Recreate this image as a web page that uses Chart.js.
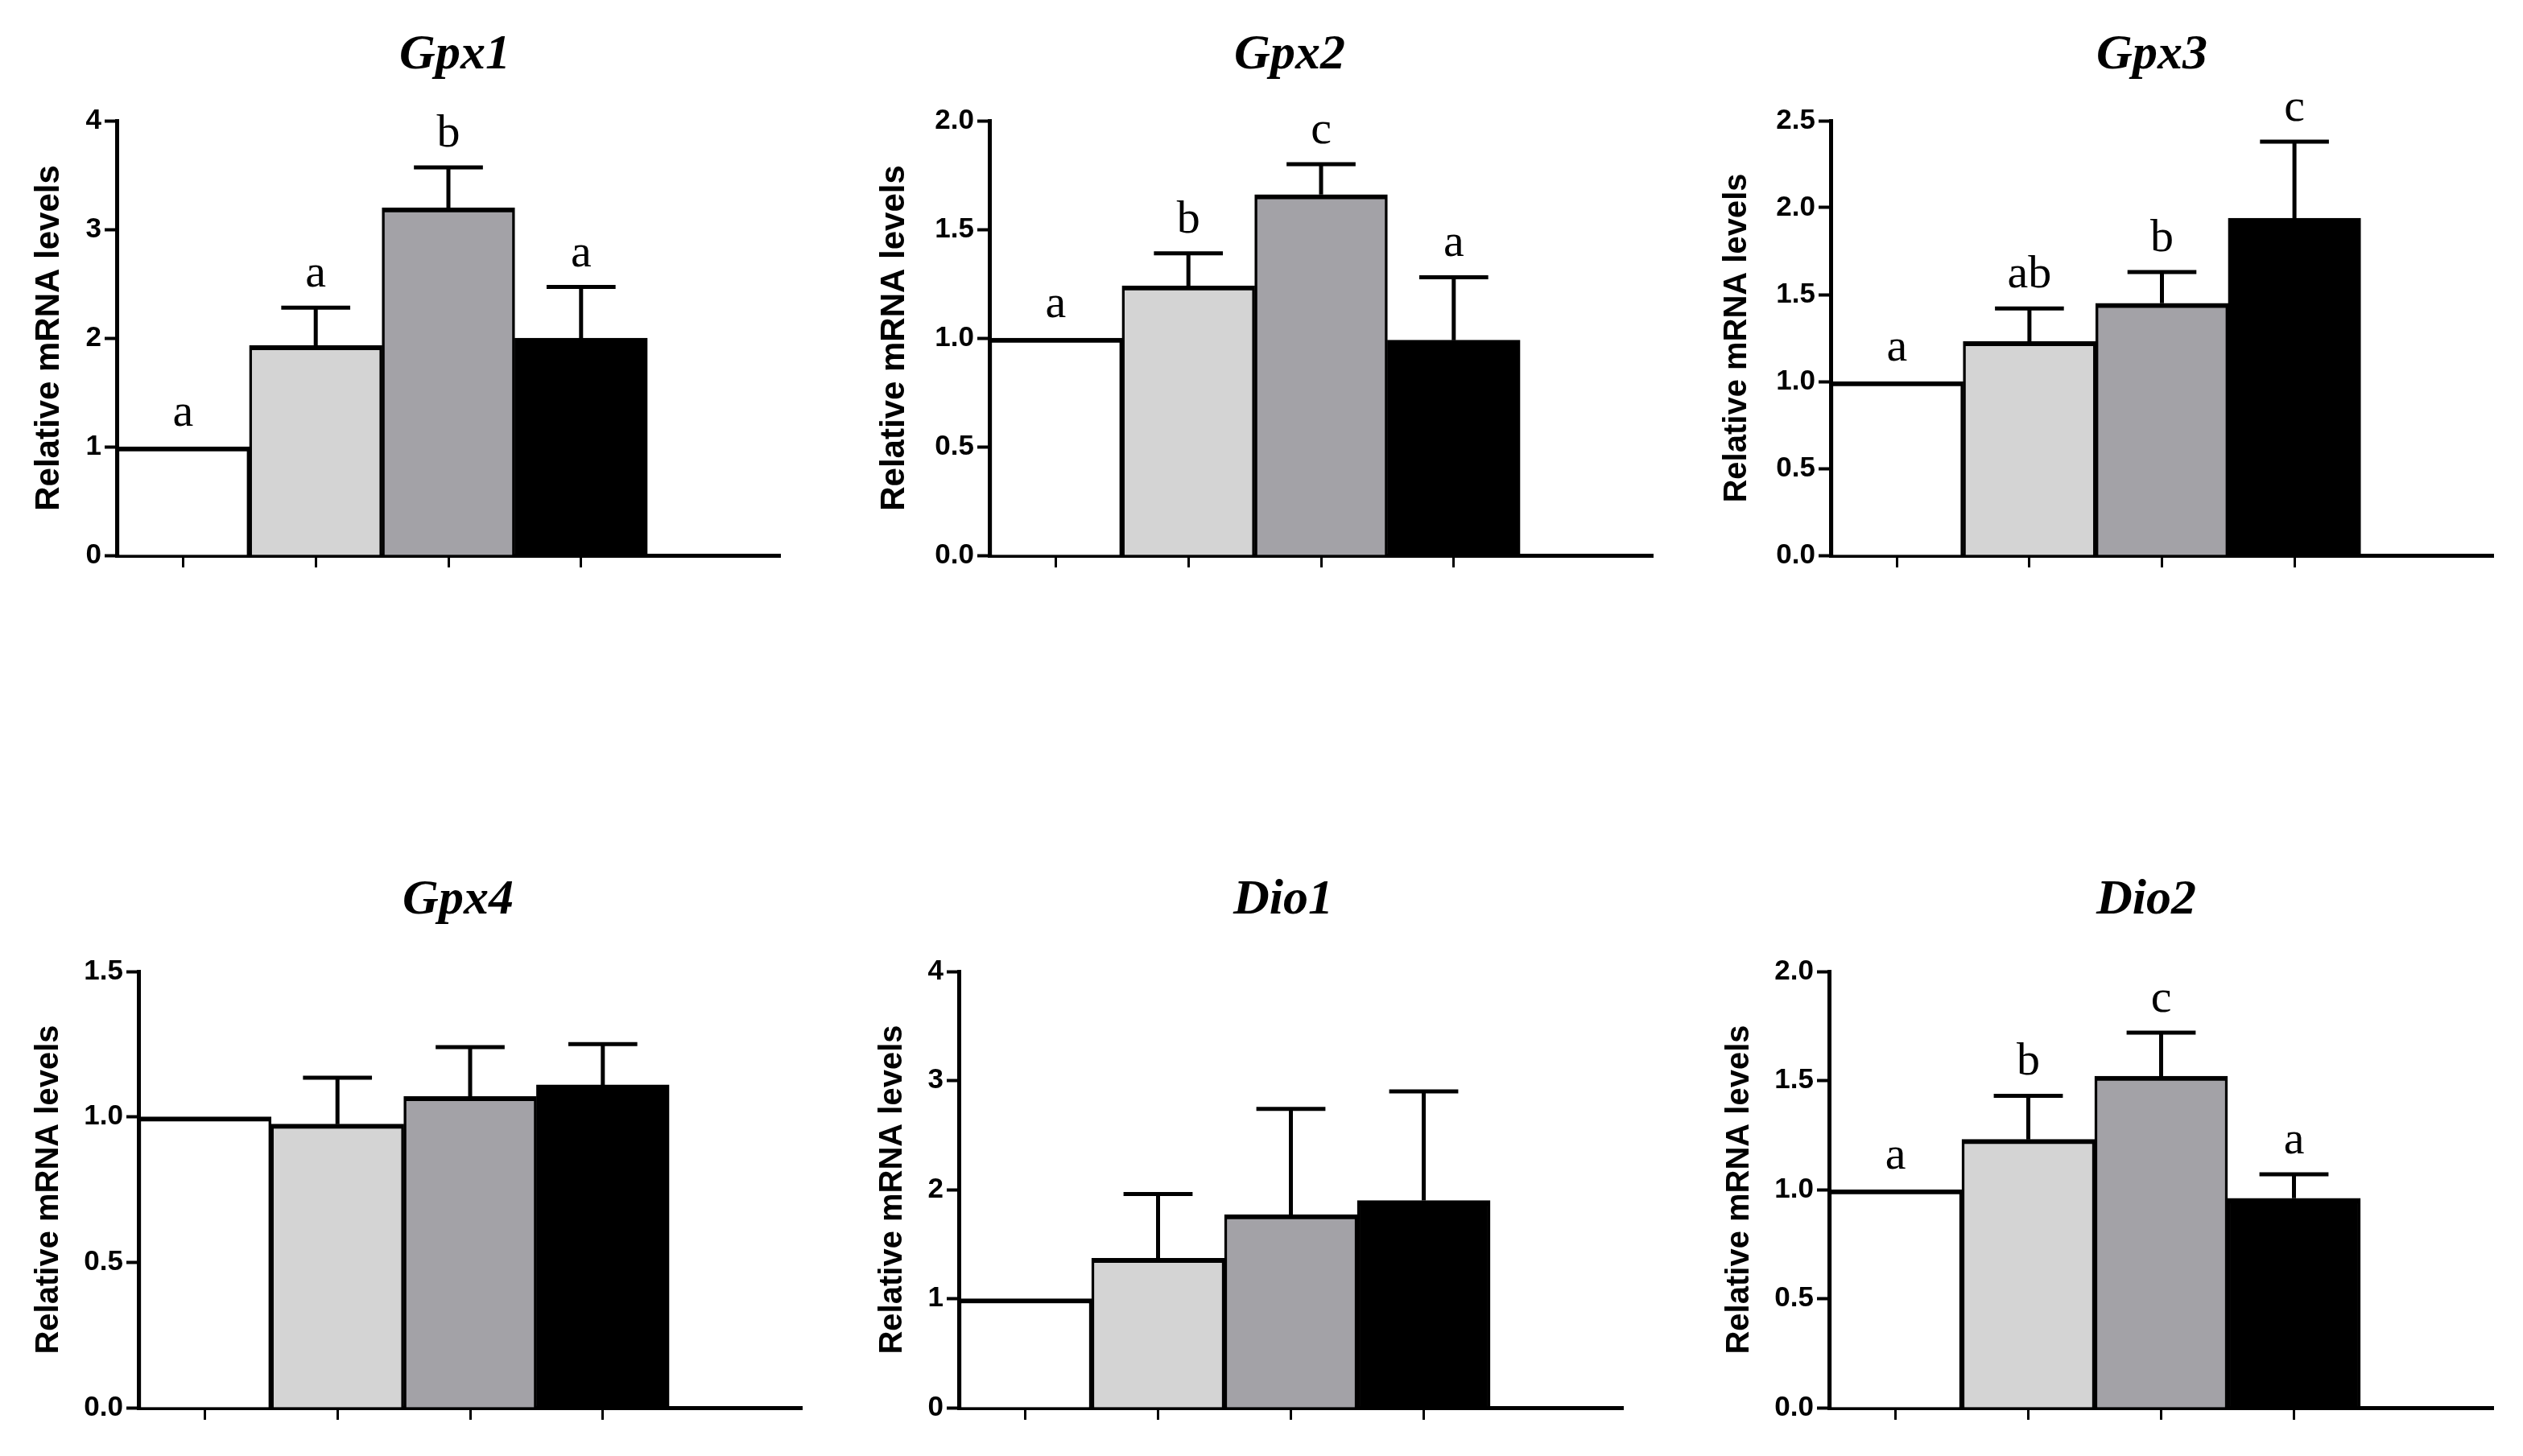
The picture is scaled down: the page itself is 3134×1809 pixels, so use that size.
<!DOCTYPE html>
<html>
<head>
<meta charset="utf-8">
<script src="https://cdn.jsdelivr.net/npm/chart.js@4.4.1/dist/chart.umd.min.js"></script>
<style>
html, body { margin: 0; padding: 0; background: #fff; width: 3134px; height: 1809px; overflow: hidden; position: relative; }
.title { position: absolute; font: italic bold 62px "Liberation Serif", serif; line-height: 1; transform: translate(-50%, -50%); white-space: nowrap; color: #000; }
</style>
</head>
<body>
<script>
// 4 groups + one empty slot on the right of each axis
var xLabels = ['', '', '', '', ''];

var gpx1Mean = [1, 1.93, 3.2, 2.0];
var gpx1Sd = [0, 0.35, 0.37, 0.47];
var gpx1Letters = ['a', 'a', 'b', 'a'];
var gpx1Ticks = ['0', '1', '2', '3', '4'];

var gpx2Mean = [1, 1.24, 1.66, 0.99];
var gpx2Sd = [0, 0.15, 0.14, 0.29];
var gpx2Letters = ['a', 'b', 'c', 'a'];
var gpx2Ticks = ['0.0', '0.5', '1.0', '1.5', '2.0'];

var gpx3Mean = [1, 1.23, 1.45, 1.94];
var gpx3Sd = [0, 0.19, 0.18, 0.44];
var gpx3Letters = ['a', 'ab', 'b', 'c'];
var gpx3Ticks = ['0.0', '0.5', '1.0', '1.5', '2.0', '2.5'];

var gpx4Mean = [1, 0.975, 1.07, 1.11];
var gpx4Sd = [0, 0.16, 0.17, 0.14];
var gpx4Letters = ['', '', '', ''];
var gpx4Ticks = ['0.0', '0.5', '1.0', '1.5'];

var dio1Mean = [1, 1.37, 1.77, 1.9];
var dio1Sd = [0, 0.59, 0.97, 1.0];
var dio1Letters = ['', '', '', ''];
var dio1Ticks = ['0', '1', '2', '3', '4'];

var dio2Mean = [1, 1.23, 1.52, 0.96];
var dio2Sd = [0, 0.2, 0.2, 0.11];
var dio2Letters = ['a', 'b', 'c', 'a'];
var dio2Ticks = ['0.0', '0.5', '1.0', '1.5', '2.0'];

var barColors = ['#ffffff', '#d4d4d4', '#a3a2a7', '#000000'];

var panels = [
    { name: 'Gpx1', mean: gpx1Mean, sd: gpx1Sd, letters: gpx1Letters, ticks: gpx1Ticks,
      axisX: 145, right: 969, top: 150, bottom: 690, titleX: 565, titleY: 64, yTitleX: 61, yTitleSize: 42 },
    { name: 'Gpx2', mean: gpx2Mean, sd: gpx2Sd, letters: gpx2Letters, ticks: gpx2Ticks,
      axisX: 1229, right: 2053, top: 150, bottom: 690, titleX: 1602, titleY: 64, yTitleX: 1111, yTitleSize: 42 },
    { name: 'Gpx3', mean: gpx3Mean, sd: gpx3Sd, letters: gpx3Letters, ticks: gpx3Ticks,
      axisX: 2274, right: 3097, top: 150, bottom: 690, titleX: 2673, titleY: 64, yTitleX: 2158, yTitleSize: 40 },
    { name: 'Gpx4', mean: gpx4Mean, sd: gpx4Sd, letters: gpx4Letters, ticks: gpx4Ticks,
      axisX: 172, right: 996, top: 1207, bottom: 1749, titleX: 569, titleY: 1114, yTitleX: 61, yTitleSize: 40 },
    { name: 'Dio1', mean: dio1Mean, sd: dio1Sd, letters: dio1Letters, ticks: dio1Ticks,
      axisX: 1191, right: 2016, top: 1207, bottom: 1749, titleX: 1594, titleY: 1114, yTitleX: 1109, yTitleSize: 40 },
    { name: 'Dio2', mean: dio2Mean, sd: dio2Sd, letters: dio2Letters, ticks: dio2Ticks,
      axisX: 2272, right: 3097, top: 1207, bottom: 1749, titleX: 2666, titleY: 1114, yTitleX: 2161, yTitleSize: 40 }
];

var sansFont = "'Liberation Sans', Arial, sans-serif";

function makePanel(p) {
    var padTop = 40, padRight = 30, xAxisH = 40;
    var left = Math.round(p.yTitleX - 0.6 * p.yTitleSize);
    var yMax = parseFloat(p.ticks[p.ticks.length - 1]);
    var step = parseFloat(p.ticks[1]) - parseFloat(p.ticks[0]);

    var canvas = document.createElement('canvas');
    canvas.width = p.right + padRight - left;
    canvas.height = padTop + (p.bottom - p.top) + xAxisH;
    canvas.style.position = 'absolute';
    canvas.style.left = left + 'px';
    canvas.style.top = (p.top - padTop) + 'px';
    document.body.appendChild(canvas);

    var title = document.createElement('div');
    title.className = 'title';
    title.textContent = p.name;
    title.style.left = p.titleX + 'px';
    title.style.top = p.titleY + 'px';
    document.body.appendChild(title);

    // error bars (upper SD only) and significance letters
    var errorBars = {
        id: 'errorBars',
        afterDatasetsDraw: function (chart) {
            var ctx = chart.ctx;
            var meta = chart.getDatasetMeta(0);
            var y = chart.scales.y;
            ctx.save();
            ctx.strokeStyle = '#000';
            ctx.fillStyle = '#000';
            ctx.lineWidth = 5;
            ctx.font = "58px 'Liberation Serif', serif";
            ctx.textAlign = 'center';
            ctx.textBaseline = 'alphabetic';
            p.mean.forEach(function (m, i) {
                var bar = meta.data[i];
                var half = bar.width * 0.26;
                var yBar = y.getPixelForValue(m);
                var yTop = y.getPixelForValue(m + p.sd[i]);
                if (p.sd[i] > 0) {
                    ctx.beginPath();
                    ctx.moveTo(bar.x, yBar);
                    ctx.lineTo(bar.x, yTop);
                    ctx.moveTo(bar.x - half, yTop);
                    ctx.lineTo(bar.x + half, yTop);
                    ctx.stroke();
                }
                if (p.letters[i]) {
                    ctx.fillText(p.letters[i], bar.x, yTop - 26);
                }
            });
            ctx.restore();
        }
    };

    new Chart(canvas.getContext('2d'), {
        type: 'bar',
        data: {
            labels: xLabels,
            datasets: [{
                data: p.mean.concat([null]),
                backgroundColor: barColors,
                borderColor: '#000',
                borderWidth: { top: 6, left: 3.5, right: 3.5, bottom: 0 },
                borderSkipped: false,
                barPercentage: 1,
                categoryPercentage: 1
            }]
        },
        options: {
            responsive: false,
            animation: false,
            layout: { padding: { left: 0, top: padTop, right: padRight, bottom: 0 } },
            plugins: { legend: { display: false }, tooltip: { enabled: false } },
            scales: {
                x: {
                    afterFit: function (s) { s.height = xAxisH; },
                    border: { display: true, color: '#000', width: 5 },
                    grid: {
                        offset: false,
                        drawOnChartArea: false,
                        drawTicks: true,
                        tickLength: 15,
                        tickWidth: 3,
                        tickColor: function (c) { return c.index < 4 ? '#000' : 'rgba(0,0,0,0)'; }
                    },
                    ticks: { display: true }
                },
                y: {
                    min: 0,
                    max: yMax,
                    afterFit: function (s) { s.width = p.axisX - left; },
                    border: { display: true, color: '#000', width: 5 },
                    grid: { drawOnChartArea: false, drawTicks: true, tickLength: 15, tickWidth: 4, tickColor: '#000' },
                    ticks: {
                        stepSize: step,
                        padding: 4,
                        color: '#000',
                        font: { family: sansFont, weight: 'bold', size: 35 },
                        callback: function (v, i) { return p.ticks[i]; }
                    },
                    title: {
                        display: true,
                        text: 'Relative mRNA levels',
                        color: '#000',
                        padding: 0,
                        font: { family: sansFont, weight: 'bold', size: p.yTitleSize }
                    }
                }
            }
        },
        plugins: [errorBars]
    });
}

panels.forEach(makePanel);
</script>
</body>
</html>
